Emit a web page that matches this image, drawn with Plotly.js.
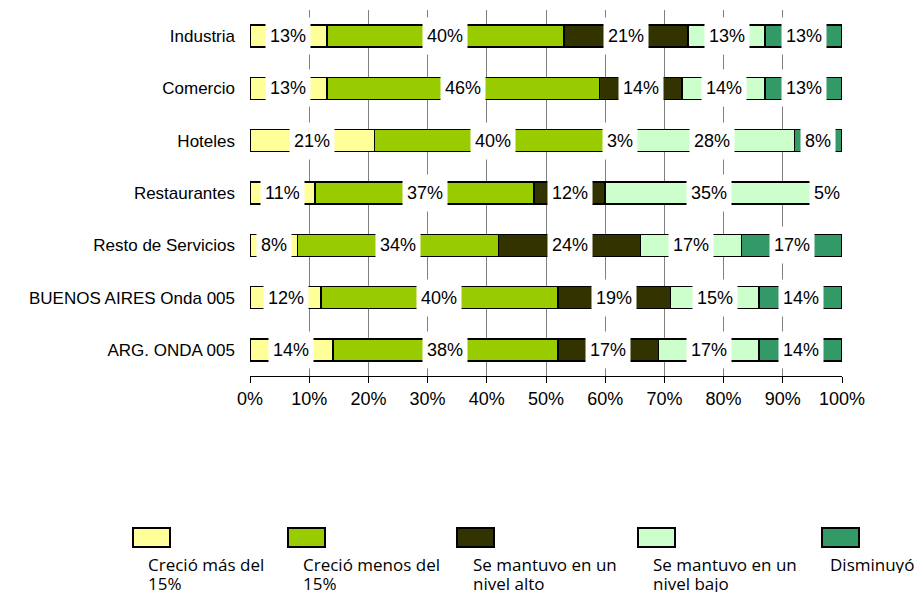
<!DOCTYPE html>
<html>
<head>
<meta charset="utf-8">
<script src="https://cdn.plot.ly/plotly-3.0.1.min.js"></script>
<style>html,body{margin:0;padding:0;background:#fff;}#chart{width:924px;height:594px;}</style>
</head>
<body>
<div id="chart"></div>
<script>
// ---- data ----
const categories = ["Industria", "Comercio", "Hoteles", "Restaurantes", "Resto de Servicios", "BUENOS AIRES Onda 005", "ARG. ONDA 005"];
const seriesNames = ["Creció más del 15%", "Creció menos del 15%", "Se mantuvo en un nivel alto", "Se mantuvo en un nivel bajo", "Disminuyó"];
const crecioMas    = [13, 13, 21, 11,  8, 12, 14];
const crecioMenos  = [40, 46, 40, 37, 34, 40, 38];
const nivelAlto    = [21, 14,  3, 12, 24, 19, 17];
const nivelBajo    = [13, 14, 28, 35, 17, 15, 17];
const disminuyo    = [13, 13,  8,  5, 17, 14, 14];
const legendLines  = [["Creció más del", "15%"], ["Creció menos del", "15%"], ["Se mantuvo en un", "nivel alto"], ["Se mantuvo en un", "nivel bajo"], ["Disminuyó"]];
const colors = ["#FFFF99", "#99CC00", "#333300", "#CCFFCC", "#339966"];

const series = [crecioMas, crecioMenos, nivelAlto, nivelBajo, disminuyo];

// ---- layout helpers (pixel geometry of plot area) ----
const W = 924, H = 594;
const M = {l: 250, r: 82, t: 10, b: 218};
const PW = W - M.l - M.r, PH = H - M.t - M.b;
const px = p => (p - M.l) / PW;
const py = p => (H - M.b - p) / PH;
const ARIAL = "Arial";

const traces = series.map((vals, s) => ({
  type: "bar",
  orientation: "h",
  name: seriesNames[s],
  y: categories,
  x: vals,
  marker: {color: colors[s], line: {color: "#000000", width: 1.5}},
  hoverinfo: "none",
  showlegend: false
}));

const annotations = [];
categories.forEach((cat, i) => {
  let cum = 0;
  series.forEach((vals, s) => {
    const v = vals[i];
    annotations.push({
      x: cum + v / 2, y: cat, xref: "x", yref: "y",
      text: v + "%", showarrow: false,
      font: {family: ARIAL, size: 18, color: "#000"},
      bgcolor: "#ffffff", borderpad: 4, height: 28,
      xanchor: "center", yanchor: "middle"
    });
    cum += v;
  });
});

// custom legend: box above two-line text
const boxLeft = [133, 288, 457, 638, 822];
const textLeft = [146, 301, 471, 651, 828];
const shapes = [];
legendLines.forEach((lines, s) => {
  shapes.push({
    type: "rect", xref: "paper", yref: "paper",
    x0: px(boxLeft[s]), x1: px(boxLeft[s] + 37), y0: py(547), y1: py(528),
    fillcolor: colors[s], line: {color: "#000", width: 2}
  });
  lines.forEach((ln, k) => {
    annotations.push({
      xref: "paper", yref: "paper",
      x: px(textLeft[s]), y: py(564 + 19 * k),
      xanchor: "left", yanchor: "middle",
      text: ln, showarrow: false, height: 17,
      font: {family: "Open Sans", size: 17, color: "#000"}
    });
  });
});

const layout = {
  width: W, height: H,
  margin: M,
  paper_bgcolor: "#fff", plot_bgcolor: "#fff",
  barmode: "stack",
  bargap: 0.58,
  showlegend: false,
  xaxis: {
    range: [0, 100], dtick: 10, tick0: 0, ticksuffix: "%",
    showgrid: true, gridcolor: "#808080", gridwidth: 1,
    zeroline: false, showline: true, linecolor: "#000", linewidth: 1,
    ticks: "outside", ticklen: 6, tickcolor: "#000",
    tickfont: {family: ARIAL, size: 18, color: "#000"},
    fixedrange: true
  },
  yaxis: {
    type: "category", categoryorder: "array", categoryarray: categories,
    autorange: "reversed",
    showgrid: false, zeroline: false, showline: false, ticks: "",
    ticklabelstandoff: 14,
    tickfont: {family: ARIAL, size: 17, color: "#000"},
    fixedrange: true
  },
  annotations: annotations,
  shapes: shapes
};

Plotly.newPlot("chart", traces, layout, {displayModeBar: false, staticPlot: true});
</script>
</body>
</html>
